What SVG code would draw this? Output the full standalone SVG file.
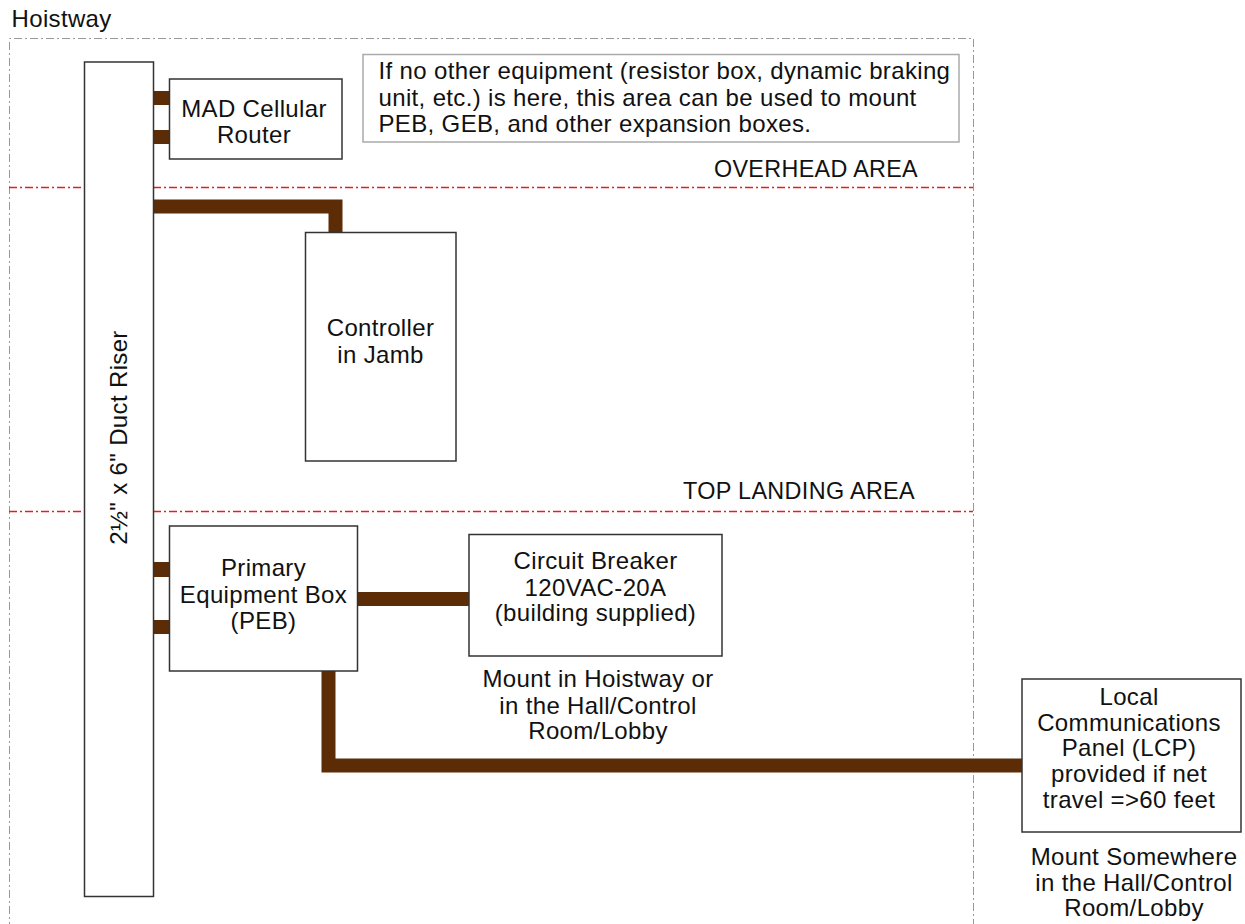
<svg xmlns="http://www.w3.org/2000/svg" width="1245" height="924" viewBox="0 0 1245 924">
<style>
  text { font-family: "Liberation Sans", Arial, sans-serif; font-size: 24px; fill: #111; letter-spacing: 0.35px; }
  .c { text-anchor: middle; }
  .box { fill: #fff; stroke: #333; stroke-width: 1.5; }
  .note { fill: #fff; stroke: #aaa; stroke-width: 1.5; }
  .hoist { fill: none; stroke: #999; stroke-width: 1; stroke-dasharray: 8 3 2 3; }
  .zone { fill: none; stroke: #e41e1e; stroke-width: 1.3; stroke-dasharray: 8 3 2 3; }
  .wire { fill: none; stroke: #5b2c06; stroke-width: 14; }
  .stub { fill: #5b2c06; }
</style>
<g id="hoistway">
  <path class="hoist" d="M9.5,930 V38.5 H973.5 V930"/>
  <text x="11.5" y="26.5">Hoistway</text>
</g>
<g id="zones">
  <line class="zone" x1="9" y1="187.5" x2="973" y2="187.5"/>
  <line class="zone" x1="9" y1="511.5" x2="973" y2="511.5"/>
  <text x="918" y="177" text-anchor="end" textLength="204" lengthAdjust="spacingAndGlyphs">OVERHEAD AREA</text>
  <text x="915" y="499" text-anchor="end" textLength="232" lengthAdjust="spacingAndGlyphs">TOP LANDING AREA</text>
</g>
<g id="connectors">
  <path class="wire" d="M153,206.5 H335.5 V233"/>
  <path class="wire" d="M357.5,599 H469"/>
  <path class="wire" d="M328.5,671 V765.5 H1022"/>
  <rect class="stub" x="153" y="91" width="17" height="14"/>
  <rect class="stub" x="153" y="130" width="17" height="14"/>
  <rect class="stub" x="153" y="562" width="17" height="15"/>
  <rect class="stub" x="153" y="620" width="17" height="14"/>
</g>
<g id="duct-riser">
  <rect class="box" x="84.5" y="62" width="69" height="834.5"/>
  <text class="c" transform="translate(127,437.5) rotate(-90)">2½" x 6" Duct Riser</text>
</g>
<g id="mad-router">
  <rect class="box" x="169.5" y="79" width="172.5" height="80"/>
  <text class="c" x="254" y="116.5">MAD Cellular</text>
  <text class="c" x="254" y="143.3">Router</text>
</g>
<g id="note">
  <rect class="note" x="363" y="54.5" width="596" height="87.5"/>
  <text x="378.5" y="79">If no other equipment (resistor box, dynamic braking</text>
  <text x="378.5" y="105.7">unit, etc.) is here, this area can be used to mount</text>
  <text x="378.5" y="132.3">PEB, GEB, and other expansion boxes.</text>
</g>
<g id="controller">
  <rect class="box" x="305.5" y="232.5" width="150.5" height="228.5"/>
  <text class="c" x="380.5" y="336">Controller</text>
  <text class="c" x="380.5" y="362.5">in Jamb</text>
</g>
<g id="peb">
  <rect class="box" x="169.5" y="526" width="188" height="145"/>
  <text class="c" x="263.5" y="576">Primary</text>
  <text class="c" x="263.5" y="602.5">Equipment Box</text>
  <text class="c" x="263.5" y="628.5">(PEB)</text>
</g>
<g id="circuit-breaker">
  <rect class="box" x="469" y="534.5" width="253" height="121.5"/>
  <text class="c" x="595.5" y="569">Circuit Breaker</text>
  <text class="c" x="595.5" y="595.5">120VAC-20A</text>
  <text class="c" x="595.5" y="621">(building supplied)</text>
  <text class="c" x="598" y="686.5">Mount in Hoistway or</text>
  <text class="c" x="598" y="713.5">in the Hall/Control</text>
  <text class="c" x="598" y="739">Room/Lobby</text>
</g>
<g id="lcp">
  <rect class="box" x="1022" y="679" width="219" height="153"/>
  <text class="c" x="1129" y="705">Local</text>
  <text class="c" x="1129" y="730.8">Communications</text>
  <text class="c" x="1129" y="756.2">Panel (LCP)</text>
  <text class="c" x="1129" y="782">provided if net</text>
  <text class="c" x="1129" y="808">travel =&gt;60 feet</text>
  <text class="c" x="1134" y="865">Mount Somewhere</text>
  <text class="c" x="1134" y="891">in the Hall/Control</text>
  <text class="c" x="1134" y="916">Room/Lobby</text>
</g>
</svg>
